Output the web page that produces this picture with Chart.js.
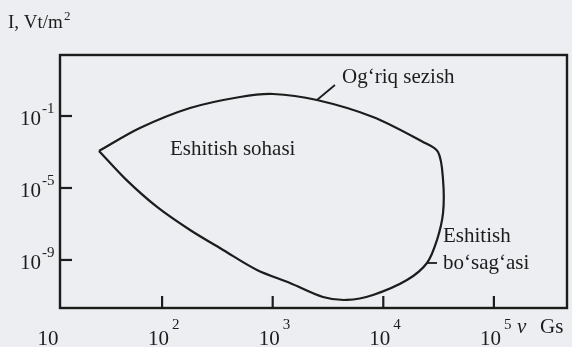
<!DOCTYPE html>
<html>
<head>
<meta charset="utf-8">
<script src="https://cdn.jsdelivr.net/npm/chart.js@4.4.1/dist/chart.umd.min.js"></script>
<style>
  html, body { margin: 0; padding: 0; background: #edeef1; }
  canvas { display: block; }
</style>
</head>
<body>
<canvas id="c" width="572" height="347"></canvas>
<script>
// Hearing area boundary (closed loop, starting and ending at the low-frequency tip)
const freqHz = [26.9, 63, 179, 506, 1007, 2513, 8070, 22860, 31260, 34700, 34700, 30590, 24830, 16370, 8070, 4695, 2850, 1432, 721, 356, 179, 90, 47, 26.9];
const intensityWm2 = [1.14e-3, 0.0215, 0.278, 1.14, 1.67, 0.774, 0.088, 0.0036, 1e-3, 2.78e-5, 4.08e-7, 1.29e-8, 6.8e-10, 7.7e-11, 1.14e-11, 6.0e-12, 8.8e-12, 5.3e-11, 2.8e-10, 3.6e-9, 4.6e-8, 8.8e-7, 3.0e-5, 1.14e-3];

const xTickValues = [10, 100, 1000, 10000, 100000];
const xTickExponents = ['', '2', '3', '4', '5'];
const yTickValues = [1e-1, 1e-5, 1e-9];
const yTickExponents = ['-1', '-5', '-9'];

const yAxisTitle = 'I, Vt/m';
const xAxisUnit = 'Gs';
const painLabel = 'Og\u2018riq sezish';
const areaLabel = 'Eshitish sohasi';
const thresholdLabel1 = 'Eshitish';
const thresholdLabel2 = 'bo\u2018sag\u2018asi';

const points = freqHz.map((f, i) => ({ x: f, y: intensityWm2[i] }));
const INK = '#1c1c1c';
const SERIF = '"Liberation Serif", "DejaVu Serif", serif';

const decor = {
  id: 'decor',
  afterDraw(chart) {
    const ctx = chart.ctx;
    const a = chart.chartArea;
    const xs = chart.scales.x, ys = chart.scales.y;
    ctx.save();
    ctx.strokeStyle = INK;
    ctx.fillStyle = INK;
    // frame
    ctx.lineWidth = 2.4;
    ctx.strokeRect(a.left, a.top, a.right - a.left, a.bottom - a.top);
    // inward ticks
    ctx.lineWidth = 2.2;
    xTickValues.forEach(v => {
      const px = xs.getPixelForValue(v);
      if (px > a.left + 2 && px < a.right - 2) {
        ctx.beginPath(); ctx.moveTo(px, a.bottom); ctx.lineTo(px, a.bottom - 12); ctx.stroke();
      }
    });
    yTickValues.forEach(v => {
      const py = ys.getPixelForValue(v);
      ctx.beginPath(); ctx.moveTo(a.left, py); ctx.lineTo(a.left + 12, py); ctx.stroke();
    });
    // x tick labels
    ctx.textBaseline = 'alphabetic';
    xTickValues.forEach((v, i) => {
      const px = xs.getPixelForValue(v) - 3.5;
      ctx.font = '21px ' + SERIF;
      ctx.textAlign = 'center';
      ctx.fillText('10', px, 345);
      const w = ctx.measureText('10').width;
      if (xTickExponents[i]) {
        ctx.font = '15px ' + SERIF;
        ctx.textAlign = 'left';
        ctx.fillText(xTickExponents[i], px + w / 2 + 3, 329);
      }
    });
    // y tick labels
    yTickValues.forEach((v, i) => {
      const py = ys.getPixelForValue(v);
      ctx.font = '21px ' + SERIF;
      ctx.textAlign = 'right';
      ctx.fillText('10', 41, py + 9);
      ctx.font = '15px ' + SERIF;
      ctx.textAlign = 'left';
      ctx.fillText(yTickExponents[i], 42, py - 3);
    });
    // axis titles
    ctx.font = '19px ' + SERIF;
    ctx.textAlign = 'left';
    ctx.fillText(yAxisTitle, 8, 28);
    const tw = ctx.measureText(yAxisTitle).width;
    ctx.font = '13px ' + SERIF;
    ctx.fillText('2', 8 + tw + 1, 20);
    ctx.font = 'italic 21px ' + SERIF;
    ctx.fillText('\u03BD', 517, 333);
    ctx.font = '21px ' + SERIF;
    ctx.fillText(xAxisUnit, 540, 333);
    // annotations
    ctx.fillText(areaLabel, 170, 155);
    ctx.fillText(painLabel, 342, 83);
    ctx.fillText(thresholdLabel1, 443, 242);
    ctx.fillText(thresholdLabel2, 443, 269);
    // pointer lines
    ctx.lineWidth = 1.8;
    const p1x = xs.getPixelForValue(freqHz[5]), p1y = ys.getPixelForValue(intensityWm2[5]);
    ctx.beginPath(); ctx.moveTo(p1x, p1y); ctx.lineTo(p1x + 18, p1y - 15); ctx.stroke();
    const p2x = xs.getPixelForValue(freqHz[12]), p2y = ys.getPixelForValue(intensityWm2[12]);
    ctx.beginPath(); ctx.moveTo(p2x, p2y); ctx.lineTo(p2x + 10, p2y); ctx.stroke();
    ctx.restore();
  }
};

new Chart(document.getElementById('c'), {
  type: 'scatter',
  data: {
    datasets: [{
      data: points,
      showLine: true,
      borderColor: INK,
      borderWidth: 2.2,
      pointRadius: 0,
      tension: 0.32,
      fill: false
    }]
  },
  options: {
    responsive: false,
    animation: false,
    layout: { padding: { left: 60, right: 5, top: 55, bottom: 39 } },
    plugins: { legend: { display: false }, tooltip: { enabled: false } },
    scales: {
      x: { type: 'logarithmic', min: 11.94, max: 458100, display: false },
      y: { type: 'logarithmic', min: 2.14e-12, max: 245.5, display: false }
    }
  },
  plugins: [decor]
});
</script>
</body>
</html>
